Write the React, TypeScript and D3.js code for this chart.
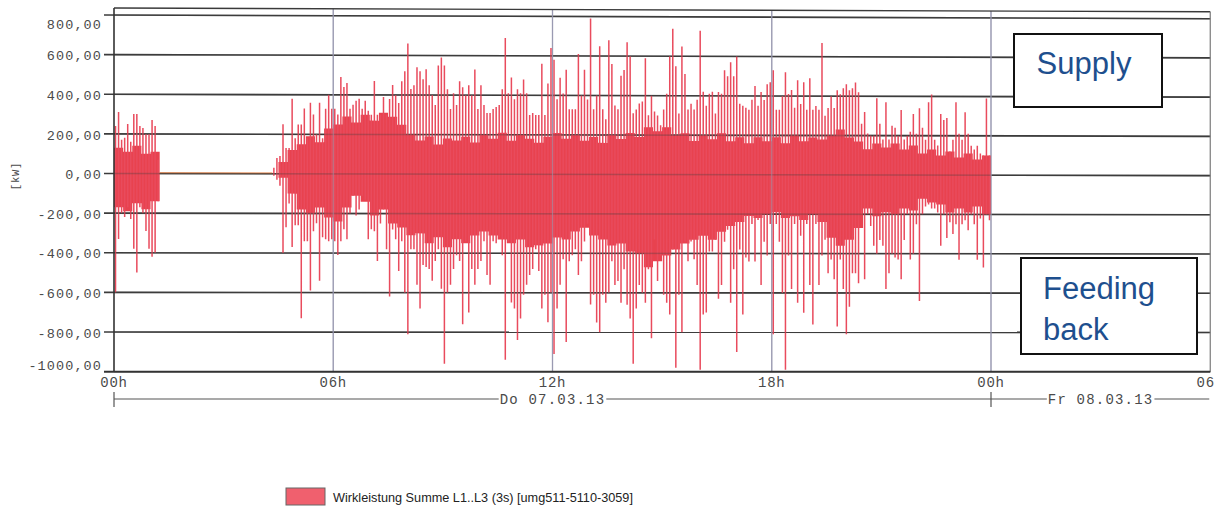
import React from "react";
import * as d3 from "d3";

// ---------- data ----------
const tickHours = [0, 6, 12, 18, 24, 30];
const tickLabels = ["00h", "06h", "12h", "18h", "00h", "06h"];
const gridHours = [6, 12, 18, 24];
const yTicks = [800, 600, 400, 200, 0, -200, -400, -600, -800, -1000];
const yTickLabels = ["800,00", "600,00", "400,00", "200,00", "0,00", "-200,00", "-400,00", "-600,00", "-800,00", "-1000,00"];
const dayStartHours = [0, 24];
const dayLabels = ["Do 07.03.13", "Fr 08.03.13"];
const unitLabel = "[kW]";
const seriesName = "Wirkleistung Summe L1..L3 (3s) [umg511-5110-3059]";
const boxSupply = "Supply";
const boxFeeding = ["Feeding", "back"];

// 5-minute bins, 00:00 .. 24:00 (one row per hour): peak supply / peak feed-back (kW)
const binMinutes = 5;
const spikeMax = [
  240, 310, 170, 180, 250, 160, 300, 300, 240, 230, 200, 200,
  270, 240, 70, 0, 0, 0, 0, 0, 0, 0, 0, 0,
  0, 0, 0, 0, 0, 0, 0, 0, 0, 0, 0, 0,
  0, 0, 0, 0, 0, 0, 0, 0, 0, 0, 0, 0,
  0, 0, 0, 0, 30, 80, 90, 250, 130, 130, 380, 180,
  250, 250, 330, 180, 360, 300, 200, 360, 180, 330, 400, 330,
  330, 300, 490, 440, 460, 330, 350, 370, 380, 330, 370, 320,
  300, 470, 300, 300, 390, 300, 380, 450, 400, 360, 470, 520,
  660, 430, 450, 540, 520, 480, 530, 450, 400, 350, 550, 590,
  550, 430, 330, 410, 350, 470, 440, 400, 450, 400, 530, 330,
  450, 350, 310, 310, 330, 340, 350, 430, 690, 410, 490, 380,
  430, 410, 480, 410, 300, 310, 300, 300, 560, 300, 460, 640,
  580, 380, 490, 410, 530, 330, 330, 330, 610, 400, 530, 380,
  790, 330, 400, 650, 330, 280, 680, 560, 350, 330, 500, 530,
  670, 600, 310, 330, 360, 370, 590, 300, 400, 320, 300, 250,
  330, 410, 600, 740, 550, 310, 650, 510, 330, 360, 330, 380,
  730, 420, 350, 410, 420, 310, 420, 410, 530, 500, 570, 500,
  600, 360, 350, 340, 330, 380, 450, 350, 420, 380, 460, 470,
  530, 330, 330, 400, 520, 410, 430, 340, 480, 360, 470, 330,
  490, 330, 350, 330, 670, 300, 340, 400, 340, 430, 410, 440,
  460, 430, 440, 470, 420, 260, 320, 210, 200, 200, 390, 260,
  180, 370, 180, 250, 240, 200, 330, 180, 200, 220, 310, 210,
  340, 240, 180, 370, 410, 180, 150, 310, 280, 290, 120, 180,
  370, 210, 180, 320, 210, 150, 130, 150, 110, 100, 390, 100,
];
const spikeMin = [
  -600, -330, -200, -220, -170, -230, -380, -500, -170, -200, -290, -380,
  -420, -400, -140, 0, 0, 0, 0, 0, 0, 0, 0, 0,
  0, 0, 0, 0, 0, 0, 0, 0, 0, 0, 0, 0,
  0, 0, 0, 0, 0, 0, 0, 0, 0, 0, 0, 0,
  0, 0, 0, 0, -10, -30, -60, -400, -270, -150, -370, -260,
  -260, -730, -340, -340, -590, -290, -250, -540, -320, -330, -340, -330,
  -340, -410, -340, -280, -330, -200, -110, -210, -180, -110, -130, -330,
  -280, -290, -440, -250, -180, -380, -620, -280, -330, -490, -340, -600,
  -810, -380, -380, -560, -680, -460, -470, -480, -540, -440, -380, -580,
  -960, -600, -560, -480, -410, -440, -760, -340, -700, -480, -560, -480,
  -440, -340, -510, -560, -340, -350, -320, -410, -940, -340, -650, -680,
  -840, -730, -610, -560, -510, -480, -380, -490, -680, -610, -750, -600,
  -910, -680, -560, -430, -850, -440, -410, -380, -510, -440, -340, -250,
  -660, -610, -750, -800, -610, -650, -600, -440, -560, -540, -650, -480,
  -660, -730, -960, -680, -560, -600, -650, -480, -830, -330, -540, -410,
  -610, -650, -710, -380, -980, -610, -800, -340, -440, -340, -430, -560,
  -990, -710, -700, -390, -390, -330, -630, -560, -340, -280, -650, -480,
  -900, -380, -710, -420, -440, -250, -440, -230, -560, -340, -410, -250,
  -810, -250, -340, -600, -990, -410, -580, -250, -650, -310, -700, -250,
  -560, -760, -250, -560, -410, -330, -500, -430, -530, -770, -430, -580,
  -810, -670, -500, -500, -550, -200, -530, -200, -260, -360, -400, -330,
  -360, -580, -500, -400, -420, -430, -530, -330, -200, -430, -400, -250,
  -640, -200, -160, -150, -170, -170, -190, -360, -200, -320, -240, -300,
  -250, -430, -250, -230, -280, -200, -250, -430, -220, -470, -200, -230,
];

// 15-minute dense band (typical upper / lower level), null = no load
const coreMinutes = 15;
const coreHi: (number | null)[] = [
  130, 110, 140, 100, 110,
  null, null, null, null, null, null, null, null, null, null, null, null, null,
  60, 120, 150, 190, 160, 230, 250, 290, 260, 300, 270, 310, 290, 250, 200, 170, 190, 150, 180,
  170, 190, 160, 200, 180, 210, 170, 200, 180, 160, 190, 210, 180, 200, 170, 190, 160, 200, 180, 210, 190,
  240, 220, 240, 200, 210, 170, 200, 180, 210, 170, 190, 160, 190, 170, 190, 160, 200, 170, 190, 180,
  200, 230, 190, 170, 130, 160, 140, 160, 130, 150, 110, 130, 100, 120, 90, 110, 80, 100,
];
const coreLo: (number | null)[] = [
  -170, -190, -150, -180, -140,
  null, null, null, null, null, null, null, null, null, null, null, null, null,
  -20, -100, -180, -200, -170, -220, -240, -170, -110, -140, -210, -180, -250, -270, -310, -300, -350, -320, -370,
  -330, -350, -310, -290, -310, -330, -350, -330, -370, -360, -350, -320, -330, -290, -270, -310, -330, -360, -350, -390, -400,
  -470, -440, -410, -380, -350, -330, -310, -330, -290, -260, -240, -210, -220, -200, -190, -220, -210, -230, -200, -240,
  -320, -360, -330, -270, -170, -210, -190, -200, -170, -180, -120, -140, -150, -190, -170, -190, -160, -200,
];

// ---------- layout ----------
const W = 1215;
const H = 506;
const L = 114;
const R = 1210.25;
const T = 8;
const B = 371.7;
const mono = "'Liberation Mono', 'DejaVu Sans Mono', monospace";
const sans = "'Liberation Sans', Arial, sans-serif";
const red = "#e8424f";
const spikeRed = "#e94b5d";

const x = d3.scaleLinear().domain([0, 30 * 60]).range([L, R]);
const y = d3.scaleLinear().domain([-1000, 800]).range([B, 14.95]);
// slight scan distortion: upper right drops a few pixels
const sk = (px: number, py: number) =>
  py + 3.8 * (Math.max(0, px - L) / (R - L)) * Math.max(0, 373 - py) / 365;
const Y = (v: number, px: number) => sk(px, y(v));

type CorePt = { m: number; hi: number | null; lo: number | null };

export default function App() {
  // core band as a step function of the 15-minute slots
  const corePts: CorePt[] = [];
  coreHi.forEach((h, i) => {
    const lo = coreLo[i];
    corePts.push({ m: i * coreMinutes, hi: h, lo });
    corePts.push({ m: (i + 1) * coreMinutes, hi: h, lo });
  });
  const coreArea = d3
    .area<CorePt>()
    .defined((d) => d.hi !== null && d.lo !== null)
    .x((d) => x(d.m))
    .y0((d) => Y(d.lo as number, x(d.m)))
    .y1((d) => Y(d.hi as number, x(d.m)));
  const coreD = coreArea(corePts) || "";

  // spikes
  const sp = d3.path();
  spikeMax.forEach((mx, k) => {
    const mn = spikeMin[k];
    if (mx === 0 && mn === 0) return;
    const px = x(k * binMinutes + binMinutes / 2);
    sp.moveTo(px, Y(mx, px));
    sp.lineTo(px, Y(mn, px));
  });
  // idle (zero) segment
  const idle = spikeMax.map((mx, k) => (mx === 0 && spikeMin[k] === 0 ? k : -1)).filter((k) => k >= 0);
  const idleLine = d3.line<number>().x((m) => x(m)).y((m) => Y(0, x(m)) - 0.8);
  const idleD = idle.length ? idleLine([idle[0] * binMinutes, (idle[idle.length - 1] + 1) * binMinutes]) || "" : "";

  const hLines = (opacity: number, key: string) =>
    yTicks.map((v) => (
      <line
        key={key + v}
        x1={opacity === 1 ? 104 : L}
        y1={y(v)}
        x2={R}
        y2={Y(v, R)}
        stroke="#3c3c3c"
        strokeWidth={1.6}
        opacity={opacity}
      />
    ));
  const vLines = (opacity: number, key: string) =>
    gridHours.map((h) => {
      const px = x(h * 60);
      return (
        <line key={key + h} x1={px} y1={sk(px, T)} x2={px} y2={B} stroke="#9a9ab2" strokeWidth={1.2} opacity={opacity} />
      );
    });

  const dayEnds = dayStartHours.map((h, i) => (i + 1 < dayStartHours.length ? x(dayStartHours[i + 1] * 60) : R));
  const dateY = 399;

  return (
    <svg
      width={W}
      height={H}
      style={{ position: "absolute", left: 0, top: 0, background: "#fff" }}
      xmlns="http://www.w3.org/2000/svg"
    >
      <rect x={0} y={0} width={W} height={H} fill="#fff" />
      {/* grid under data */}
      {hLines(1, "h")}
      {vLines(1, "v")}
      {/* data */}
      <path d={coreD} fill={red} stroke="none" />
      <path d={sp.toString()} stroke={spikeRed} strokeWidth={1.5} fill="none" />
      <path d={idleD} stroke="#e07a3c" strokeWidth={1} fill="none" />
      {/* grid faintly visible through data */}
      {hLines(0.3, "ho")}
      {vLines(0.6, "vo")}
      {/* frame */}
      <line x1={L} y1={T} x2={R} y2={sk(R, T)} stroke="#3a3a3a" strokeWidth={1.4} />
      <line x1={R} y1={sk(R, T)} x2={R} y2={B} stroke="#7a7a7a" strokeWidth={1.2} />
      <line x1={L} y1={T} x2={L} y2={B} stroke="#333" strokeWidth={1.6} />
      <line x1={104} y1={B} x2={R} y2={B} stroke="#333" strokeWidth={1.8} />

      {/* y tick labels */}
      {yTicks.map((v, i) => {
        const cy = Math.min(Math.max(y(v) + 2.2, T + 17.5), B - 5.7);
        return (
          <text
            key={"yl" + v}
            x={102}
            y={cy}
            textAnchor="end"
            dominantBaseline="central"
            fontFamily={mono}
            fontSize={13.5}
            letterSpacing={1.1}
            fill="#4a4a4a"
          >
            {yTickLabels[i]}
          </text>
        );
      })}
      <text
        transform="translate(16,176) rotate(-90)"
        textAnchor="middle"
        dominantBaseline="central"
        fontFamily={mono}
        fontSize={10.5}
        letterSpacing={0.8}
        fill="#4a4a4a"
      >
        {unitLabel}
      </text>

      {/* x tick labels */}
      {tickHours.map((h, i) => (
        <text
          key={"xl" + i}
          x={x(h * 60)}
          y={382.5}
          textAnchor="middle"
          dominantBaseline="central"
          fontFamily={mono}
          fontSize={14}
          letterSpacing={0.8}
          fill="#4a4a4a"
        >
          {tickLabels[i]}
        </text>
      ))}

      {/* date axis */}
      <line x1={L} y1={dateY} x2={R - 1} y2={dateY} stroke="#555" strokeWidth={1.2} />
      {dayStartHours.map((h, i) => {
        const x0 = x(h * 60);
        const cx = (x0 + dayEnds[i]) / 2;
        const w = dayLabels[i].length * 9.6 + 2;
        return (
          <g key={"day" + i}>
            <line x1={x0} y1={392} x2={x0} y2={407} stroke="#555" strokeWidth={1.2} />
            <rect x={cx - w / 2} y={dateY - 7} width={w} height={14} fill="#fff" />
            <text
              x={cx}
              y={dateY + 0.5}
              textAnchor="middle"
              dominantBaseline="central"
              fontFamily={mono}
              fontSize={14}
              letterSpacing={1.2}
              fill="#4a4a4a"
            >
              {dayLabels[i]}
            </text>
          </g>
        );
      })}

      {/* annotation boxes */}
      <rect x={1014} y={34} width={148} height={73} fill="#fff" stroke="#111" strokeWidth={2} />
      <text x={1084} y={74} textAnchor="middle" fontFamily={sans} fontSize={31} fill="#1e4f8e">
        {boxSupply}
      </text>
      <rect x={1021} y={258} width={176} height={96} fill="#fff" stroke="#111" strokeWidth={2} />
      <text x={1043} y={299} fontFamily={sans} fontSize={31} fill="#1e4f8e">
        {boxFeeding[0]}
      </text>
      <text x={1043} y={340} fontFamily={sans} fontSize={31} fill="#1e4f8e">
        {boxFeeding[1]}
      </text>

      {/* legend */}
      <rect x={286} y={488} width={39} height={17} fill="#f0606e" stroke="#666" strokeWidth={1} />
      <text x={333} y={501.5} fontFamily={sans} fontSize={12.7} fill="#222">
        {seriesName}
      </text>
    </svg>
  );
}
